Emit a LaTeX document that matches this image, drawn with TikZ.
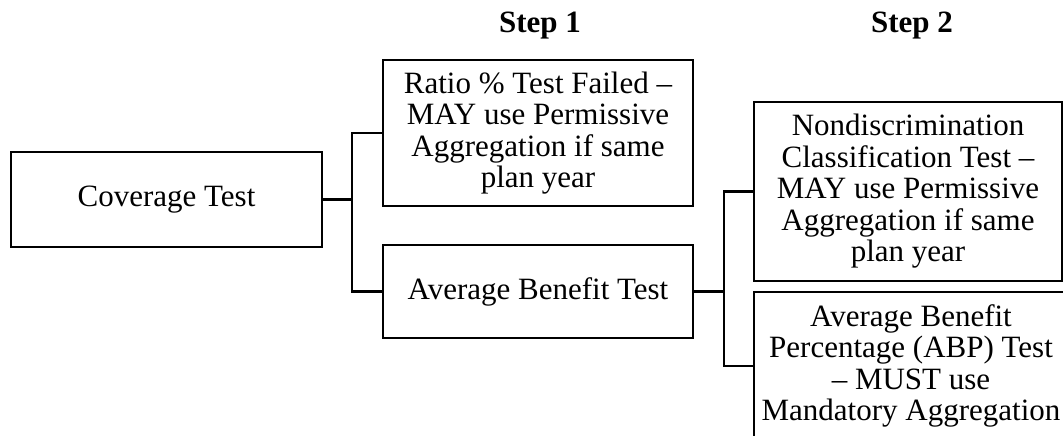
\documentclass[tikz,border=0pt]{standalone}
\usepackage{fontspec}
\setmainfont{Liberation Serif}
\begin{document}
\begin{tikzpicture}[x=1pt,y=-1pt,
  box/.style={draw=black, line width=2.7pt, inner sep=0pt, align=center,
    font=\fontsize{31}{31.5}\selectfont},
  link/.style={draw=black, line width=2.7pt},
  head/.style={font=\fontsize{31}{33}\selectfont\bfseries, anchor=base, inner sep=0pt}]
  \clip (0,0) rectangle (1063,436);

  % column headings
  \node[head] (s1) at (540,33) {Step 1};
  \node[head] (s2) at (912,33) {Step 2};

  % boxes
  \node[box, minimum width=311pt, minimum height=95pt] (cov) at (166.5,199.5) {Coverage Test};
  \node[box, minimum width=310pt, minimum height=146pt] (ratio) at (538,133)
    {Ratio \% Test Failed --\\MAY use Permissive\\Aggregation if same\\plan year};
  \node[box, minimum width=310pt, minimum height=93pt] (avg) at (538,291.5) {Average Benefit Test};
  \node[box, minimum width=308pt, minimum height=179pt] (nondisc) at (908,191.5)
    {Nondiscrimination\\Classification Test --\\MAY use Permissive\\Aggregation if same\\plan year};
  \node[box, minimum width=314pt, minimum height=148pt] (abp) at (911,366)
    {Average Benefit\\Percentage (ABP) Test\\-- MUST use\\Mandatory Aggregation};

  % junction points
  \coordinate (j1) at (352,0);
  \coordinate (j2) at (724,0);

  % connectors
  \draw[link] (cov.east) -- (cov.east -| j1);
  \draw[link] (ratio.west) -- (ratio.west -| j1) -- (avg.west -| j1) -- (avg.west);
  \draw[link] (avg.east) -- (avg.east -| j2);
  \draw[link] (nondisc.west) -- (nondisc.west -| j2) -- (abp.west -| j2) -- (abp.west);
\end{tikzpicture}
\end{document}
